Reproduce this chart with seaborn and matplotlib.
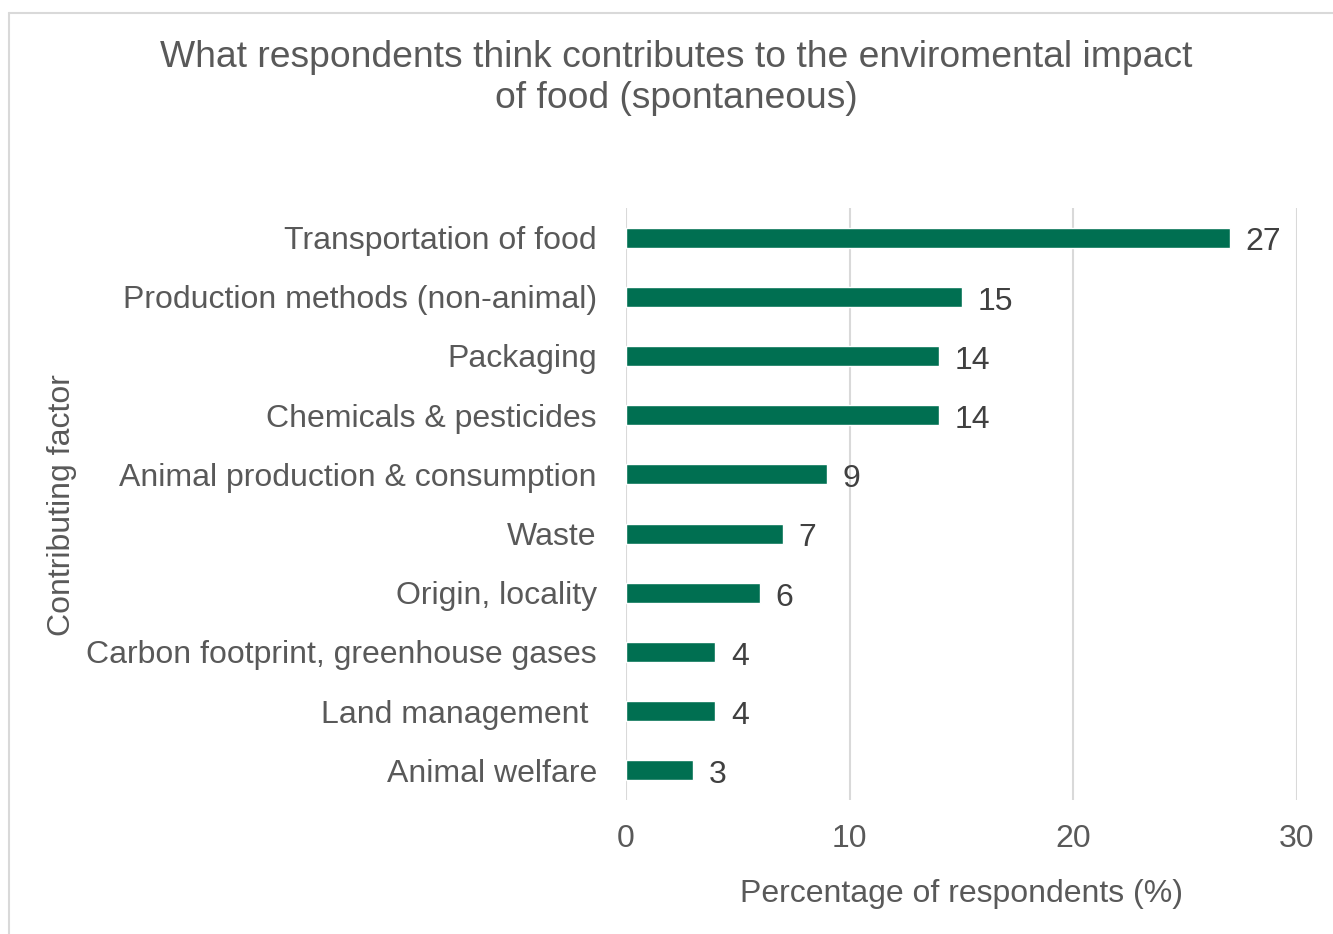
import matplotlib
matplotlib.use("Agg")
import matplotlib.pyplot as plt
import seaborn as sns
import pandas as pd
from matplotlib.lines import Line2D

categories = [
    "Transportation of food",
    "Production methods (non-animal)",
    "Packaging",
    "Chemicals & pesticides",
    "Animal production & consumption",
    "Waste",
    "Origin, locality",
    "Carbon footprint, greenhouse gases",
    "Land management ",
    "Animal welfare",
]
values = [27, 15, 14, 14, 9, 7, 6, 4, 4, 3]
x_ticks = [0, 10, 20, 30]

df = pd.DataFrame({"factor": categories, "pct": values})

sns.set_theme(style="white")
plt.rcParams["font.family"] = ["Liberation Sans", "DejaVu Sans"]

W, H = 1333, 934
fig = plt.figure(figsize=(W / 100, H / 100), dpi=100)
ax = fig.add_axes([626 / W, 1 - 800 / H, (1297 - 626) / W, (800 - 208) / H])

sns.barplot(data=df, x="pct", y="factor", color="#006F51", width=0.34,
            saturation=1, ax=ax, orient="h")

text_col = "#595959"
for i, v in enumerate(values):
    ax.text(v + 0.7, i + 0.08, str(v), va="center", ha="left", fontsize=23,
            color="#404040")

ax.set_xlim(0, 30)
ax.set_ylim(9.5, -0.5)
ax.set_xticks(x_ticks)
ax.set_xticklabels([str(t) for t in x_ticks])
ax.grid(axis="x", color="#D9D9D9", linewidth=1.5)
ax.set_axisbelow(True)
for s in ax.spines.values():
    s.set_visible(False)
ax.tick_params(axis="both", length=0, labelsize=23, labelcolor=text_col)
ax.tick_params(axis="y", pad=21)
ax.tick_params(axis="x", pad=17)

ax.set_xlabel("Percentage of respondents (%)", fontsize=23, color=text_col,
              labelpad=18)
ax.set_ylabel("")
fig.text(62 / W, 1 - 505 / H, "Contributing factor", rotation=90,
         ha="center", va="center", fontsize=23, color=text_col)

fig.text(676 / W, 1 - 78 / H,
         "What respondents think contributes to the enviromental impact\nof food (spontaneous)",
         ha="center", va="center", fontsize=26.8, color=text_col,
         linespacing=1.2)

fig.add_artist(Line2D([9 / W, 1.0], [1 - 12.5 / H, 1 - 12.5 / H],
                      transform=fig.transFigure, color="#D9D9D9", lw=1.5))
fig.add_artist(Line2D([9 / W, 9 / W], [0, 1 - 12.5 / H],
                      transform=fig.transFigure, color="#D9D9D9", lw=1.5))

fig.savefig("out.png", dpi=100)
